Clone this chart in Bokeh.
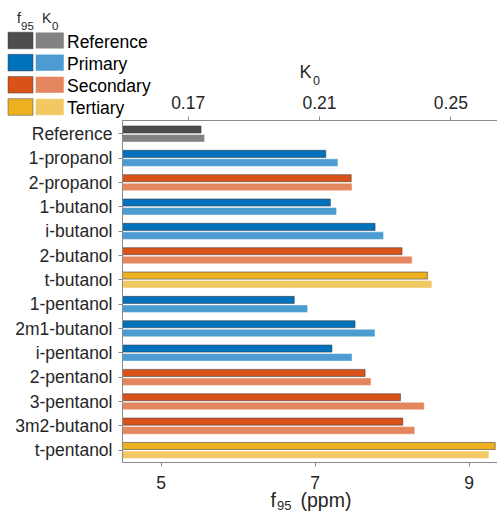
from bokeh.plotting import figure
from bokeh.layouts import column
from bokeh.models import Range1d, LinearAxis, FixedTicker, ColumnDataSource
from bokeh.core.properties import value
from bokeh.embed import file_html
from bokeh.resources import INLINE

# ---------------- data ----------------
alcohols = ["Reference", "1-propanol", "2-propanol", "1-butanol", "i-butanol",
            "2-butanol", "t-butanol", "1-pentanol", "2m1-butanol", "i-pentanol",
            "2-pentanol", "3-pentanol", "3m2-butanol", "t-pentanol"]
alcohol_class = ["Reference", "Primary", "Secondary", "Primary", "Primary",
                 "Secondary", "Tertiary", "Primary", "Primary", "Primary",
                 "Secondary", "Secondary", "Secondary", "Tertiary"]
f95 = [5.52, 7.14, 7.47, 7.20, 7.78, 8.13, 8.46, 6.73, 7.52, 7.22, 7.65, 8.11, 8.14, 9.34]
k0 = [0.175, 0.2156, 0.2199, 0.2152, 0.2295, 0.2382, 0.2442, 0.2064, 0.2269, 0.2199,
      0.2257, 0.2419, 0.2390, 0.2616]
class_names = ["Reference", "Primary", "Secondary", "Tertiary"]
f95_ticks = [5, 7, 9]
k0_ticks = [0.17, 0.21, 0.25]

dark = {"Reference": "#4D4D4D", "Primary": "#0072BD", "Secondary": "#D95319", "Tertiary": "#EDB120"}
light = {"Reference": "#828282", "Primary": "#4C9CD1", "Secondary": "#E4875E", "Tertiary": "#F2C863"}

FONT = "Liberation Sans"
FS = "17.5px"
W, H = 497, 512
FL, FT, FB = 122, 120, 462  # frame left / top / bottom on the canvas
AX = "#8a8a8a"
TXT = "#262626"

# ---------------- main chart ----------------
pos = list(range(1, len(alcohols) + 1))
src = ColumnDataSource(dict(
    yf=[q - 0.18 for q in pos],
    yk=[q + 0.18 for q in pos],
    f95=f95, k0=k0,
    cd=[dark[c] for c in alcohol_class],
    cl=[light[c] for c in alcohol_class],
))

p = figure(width=W, height=H, output_backend="svg", toolbar_location=None,
           x_range=Range1d(4.5, 9.37), y_range=Range1d(14.5, 0.45),
           min_border_left=FL, min_border_top=FT, min_border_bottom=H - FB,
           min_border_right=0)
p.frame_align = False
p.extra_x_ranges = {"k0": Range1d(0.15, 0.2642)}
p.outline_line_color = None
p.xgrid.visible = False
p.ygrid.visible = False
p.background_fill_color = "white"
p.border_fill_color = "white"

p.hbar(y="yf", left=4.5, right="f95", height=0.29, source=src,
       fill_color="cd", line_color="#3c3c3c", line_alpha=0.7, line_width=0.8)
p.hbar(y="yk", left=0.15, right="k0", height=0.31, source=src, x_range_name="k0",
       fill_color="cl", line_color="white", line_alpha=0.6, line_width=0.8)


def style_axis(ax):
    ax.axis_line_color = AX
    ax.major_tick_line_color = AX
    ax.minor_tick_line_color = None
    ax.major_tick_in = 0
    ax.major_tick_out = 4
    ax.major_label_text_font = FONT
    ax.major_label_text_font_size = FS
    ax.major_label_text_color = TXT

xb = p.xaxis[0]
xb.ticker = FixedTicker(ticks=f95_ticks)
style_axis(xb)
xb.major_label_standoff = 9

yl = p.yaxis[0]
yl.ticker = FixedTicker(ticks=pos)
yl.major_label_overrides = {i: name for i, name in zip(pos, alcohols)}
style_axis(yl)
yl.major_label_standoff = 6

xt = LinearAxis(x_range_name="k0", ticker=FixedTicker(ticks=k0_ticks))
style_axis(xt)
xt.major_label_standoff = 8
p.add_layout(xt, "above")

# ---------------- overlay: legend and axis titles (pixel coordinates) ----------------
o = figure(width=W, height=H, output_backend="svg", toolbar_location=None,
           x_range=Range1d(0, W), y_range=Range1d(H, 0),
           x_axis_type=None, y_axis_type=None,
           min_border=0, min_border_left=0, min_border_right=0,
           min_border_top=0, min_border_bottom=0)
o.frame_align = False
o.outline_line_color = None
o.grid.visible = False
o.background_fill_color = None
o.border_fill_color = None
o.margin = (-H, 0, 0, 0)

row_y = [40 + 22.15 * i for i in range(len(class_names))]
leg = ColumnDataSource(dict(
    y=row_y,
    top=[y - 8.3 for y in row_y],
    bottom=[y + 8.3 for y in row_y],
    cd=[dark[c] for c in class_names],
    cl=[light[c] for c in class_names],
    name=class_names,
))
o.quad(left=7.5, right=32.5, top="top", bottom="bottom", source=leg,
       fill_color="cd", line_color="#3c3c3c", line_alpha=0.6, line_width=0.8)
o.quad(left=35, right=63.5, top="top", bottom="bottom", source=leg,
       fill_color="cl", line_color="white", line_alpha=0.6, line_width=0.8)
o.text(x=66.5, y="y", text="name", source=leg, text_font=value(FONT),
       text_font_size=value(FS), text_color="black", text_baseline="middle",
       text_align="left", y_offset=1)

# small texts with subscripts: legend headers and axis titles
small = ColumnDataSource(dict(
    x=[16.5, 20.5, 41.5, 51.5, 299, 312.5, 270, 276.5, 300],
    y=[17, 25, 17, 25, 71.5, 80, 499, 504.5, 499],
    t=["f", "95", "K", "0", "K", "0", "f", "95", "(ppm)"],
    s=["14px", "11.5px", "14px", "11.5px", "18px", "12.5px", "19.5px", "13px", "19.5px"],
))
o.text(x="x", y="y", text="t", text_font_size="s", source=small, text_font=value(FONT),
       text_color=TXT, text_baseline="alphabetic", text_align="left")

open("out.html", "w").write(file_html(column(p, o), INLINE))
